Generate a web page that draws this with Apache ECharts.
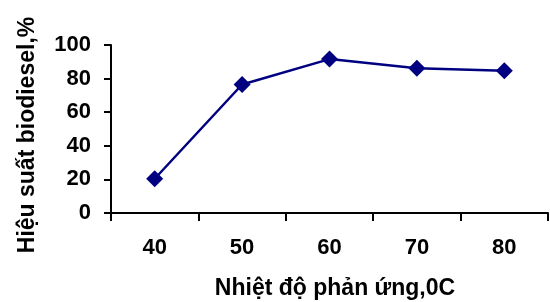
<!DOCTYPE html>
<html>
<head>
<meta charset="utf-8">
<script src="https://cdn.jsdelivr.net/npm/echarts@6/dist/echarts.min.js"></script>
<style>html,body{margin:0;padding:0;background:#fff}#c{width:550px;height:302px}</style>
</head>
<body>
<div id="c"></div>
<script>
var categories = ['40', '50', '60', '70', '80'];
var yieldValues = [20.4, 76.5, 91.6, 86.1, 84.7];
var yTicks = [0, 20, 40, 60, 80, 100];
var xTitle = 'Nhiệt độ phản ứng,0C';
var yTitle = 'Hiệu suất biodiesel,%';

var font = 'Arial, "Liberation Sans", sans-serif';
var chart = echarts.init(document.getElementById('c'));
chart.setOption({
  animation: false,
  grid: { left: 111, right: 2, top: 45, bottom: 89 },
  xAxis: {
    type: 'category',
    data: categories,
    boundaryGap: true,
    axisLine: { lineStyle: { color: '#000', width: 2 } },
    axisTick: { show: true, length: 8, alignWithLabel: false, lineStyle: { color: '#000', width: 2 } },
    axisLabel: { color: '#000', fontWeight: 'bold', fontSize: 22, fontFamily: font, margin: 24 },
    splitLine: { show: false }
  },
  yAxis: {
    type: 'value',
    min: yTicks[0],
    max: yTicks[yTicks.length - 1],
    interval: 20,
    axisLine: { show: true, lineStyle: { color: '#000', width: 2 } },
    axisTick: { show: true, length: 7, lineStyle: { color: '#000', width: 2 } },
    axisLabel: { color: '#000', fontWeight: 'bold', fontSize: 22, fontFamily: font, margin: 20 },
    splitLine: { show: false }
  },
  graphic: [
    {
      type: 'text', x: 335, y: 289,
      style: { text: xTitle, fill: '#000', font: 'bold 23px ' + font, align: 'center', verticalAlign: 'middle' }
    },
    {
      type: 'text', x: 28, y: 135, rotation: Math.PI / 2,
      style: { text: yTitle, fill: '#000', font: 'bold 23px ' + font, align: 'center', verticalAlign: 'middle' }
    }
  ],
  series: [{
    type: 'line',
    data: yieldValues,
    symbol: 'diamond',
    symbolSize: 17,
    itemStyle: { color: '#000080' },
    lineStyle: { color: '#000080', width: 2.5 }
  }]
});
</script>
</body>
</html>
